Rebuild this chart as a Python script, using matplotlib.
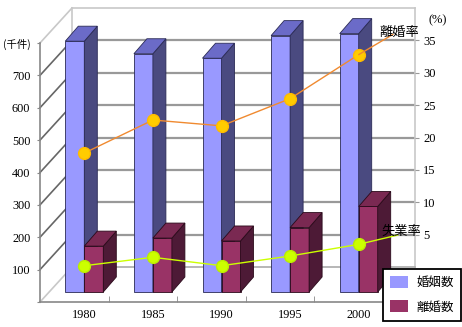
import matplotlib
matplotlib.use('Agg')
import matplotlib.pyplot as plt
from matplotlib.patches import Polygon, Patch
import numpy as np

plt.rcParams['font.family'] = ['Liberation Serif', 'Noto Sans CJK JP', 'DejaVu Sans']

# ---------------- data ----------------
years = ['1980', '1985', '1990', '1995', '2000']
marriages = [774.7, 735.9, 722.1, 791.9, 798.1]      # 婚姻数 (千件)
divorces = [141.7, 166.6, 157.6, 199.0, 264.2]       # 離婚数 (千件)
divorce_rate = [17.6, 22.7, 21.8, 26.0, 32.8]        # 離婚率 (%)
unemployment = [0.2, 1.5, 0.2, 1.7, 3.5]             # 失業率 (as drawn, %)
left_ticks = [0, 100, 200, 300, 400, 500, 600, 700, 800]
left_labels = ['', '100', '200', '300', '400', '500', '600', '700', '(千件)']
grid_ticks = [100, 200, 300, 400, 500, 600, 700]
right_ticks = [5, 10, 15, 20, 25, 30, 35]
right_labels = ['5', '10', '15', '20', '25', '30', '35']

# ---------------- layout (pixels) ----------------
W, H = 462, 327
fig = plt.figure(figsize=(W / 100, H / 100), dpi=100)
fig.patch.set_facecolor('white')

def rect(l, t, r, b):
    return [l / W, 1 - b / H, (r - l) / W, (b - t) / H]

FL, FR, FT, FB = 40, 383, 43, 302    # front plane
DX, DY = 32, 35                      # wall depth
BOX, BOY = 10, 10                    # bar plane offset
BDX, BDY = 13, 15                    # bar depth
BW = 19                              # bar width
n = len(years)
idx = np.arange(n)

# back wall
ax_back = fig.add_axes(rect(FL + DX, FT - DY, FR + DX, FB - DY))
ax_back.set_xlim(-0.5, n - 0.5)
ax_back.set_ylim(0, 800)
ax_back.set_yticks(grid_ticks)
ax_back.set_xticks([])
ax_back.yaxis.grid(True, color='#999999', lw=1.6)
ax_back.tick_params(left=False, labelleft=False)
for s in ['top', 'left', 'right']:
    ax_back.spines[s].set_color('#c8c8c8')
    ax_back.spines[s].set_linewidth(1.2)
ax_back.spines['bottom'].set_color('#aaaaaa')
ax_back.spines['bottom'].set_linewidth(1.2)

ax_r = ax_back.twinx()
ax_r.set_ylim(0, 40)
ax_r.set_yticks(right_ticks, right_labels)
ax_r.tick_params(axis='y', length=3, color='#999999', pad=3, labelsize=9)
for s in ax_r.spines.values():
    s.set_visible(False)
fig.text(438 / W, 1 - 20 / H, '(%)', ha='center', va='center', fontsize=9)

# front plane
ax = fig.add_axes(rect(FL, FT, FR, FB))
ax.patch.set_visible(False)
ax.set_xlim(-0.5, n - 0.5)
ax.set_ylim(0, 800)
for s in ['top', 'right']:
    ax.spines[s].set_visible(False)
for s in ['left', 'bottom']:
    ax.spines[s].set_color('#888888')
    ax.spines[s].set_linewidth(1.2)

xpp = n / (FR - FL)
ypp = 800 / (FB - FT)

# side wall diagonals
for v in left_ticks:
    c = '#c8c8c8' if v in (0, 800) else '#666666'
    ax.plot([-0.5, -0.5 + DX * xpp], [v, v + DY * ypp], color=c, lw=1.2,
            clip_on=False, zorder=0.5)

ax.set_yticks(left_ticks, left_labels)
ax.tick_params(axis='y', length=2, color='#888888', labelsize=8.8, pad=5)
for lbl in ax.get_yticklabels():
    if '千' in lbl.get_text():
        lbl.set_fontfamily(['Noto Sans CJK JP'])
        lbl.set_fontsize(7.5)

ox, oy = BOX * xpp, BOY * ypp
w = BW * xpp
dxb, dyb = BDX * xpp, BDY * ypp

ax.set_xticks(idx + ox, years)
ax.set_xticks(idx[:-1] + 0.5, minor=True)
ax.tick_params(axis='x', which='major', length=0, pad=5, labelsize=8.8)
ax.tick_params(axis='x', which='minor', length=4, direction='in', color='#888888')

def bar3d(lefts, heights, front, side, top, edge, z):
    ax.bar(lefts, heights, width=w, bottom=oy, align='edge', color=front,
           edgecolor=edge, linewidth=0.6, clip_on=False, zorder=z)
    for x0, h in zip(lefts, heights):
        x1 = x0 + w
        yt = oy + h
        ax.add_patch(Polygon([(x1, oy), (x1, yt), (x1 + dxb, yt + dyb), (x1 + dxb, oy + dyb)],
                             closed=True, fc=side, ec=edge, lw=0.6, clip_on=False, zorder=z))
        ax.add_patch(Polygon([(x0, yt), (x1, yt), (x1 + dxb, yt + dyb), (x0 + dxb, yt + dyb)],
                             closed=True, fc=top, ec=edge, lw=0.6, clip_on=False, zorder=z))

bar3d(idx + ox - w, marriages, '#9999ff', '#4a4a80', '#6b6bc8', '#2a2a55', 2)
bar3d(idx + ox, divorces, '#993366', '#4d1a36', '#7a2952', '#2a0a1a', 3)

# line axes (right scale)
axl = fig.add_axes(rect(FL + BOX, FT - DY, FR + BOX, FB - DY))
axl.set_xlim(-0.5, n - 0.5)
axl.set_ylim(0, 40)
axl.axis('off')
axl.patch.set_visible(False)

axl.plot(idx, divorce_rate, color='#f08a30', lw=1.0, marker='o', ms=8.5,
         mfc='#ffcc00', mec='#ffbb00', clip_on=False, zorder=5)
axl.plot(idx, unemployment, color='#ccff00', lw=1.0, marker='o', ms=8.5,
         mfc='#ccff00', mec='#bbee00', clip_on=False, zorder=5)

axl.annotate('離婚率', xy=(idx[-1], divorce_rate[-1]), xytext=(29, 16),
             textcoords='offset points', ha='center', va='center', fontsize=9.5,
             fontfamily=['Noto Sans CJK JP'],
             arrowprops=dict(arrowstyle='-', color='#f08a30', lw=1.0,
                             relpos=(0.35, 0.35), shrinkA=0, shrinkB=0, patchA=None),
             annotation_clip=False, zorder=6)
axl.annotate('失業率', xy=(idx[-1], unemployment[-1]), xytext=(31, 9.5),
             textcoords='offset points', ha='center', va='center', fontsize=9.5,
             fontfamily=['Noto Sans CJK JP'],
             arrowprops=dict(arrowstyle='-', color='#ccff00', lw=1.0,
                             relpos=(0.4, 0.2), shrinkA=0, shrinkB=0, patchA=None),
             annotation_clip=False, zorder=6)

# legend
handles = [Patch(fc='#9999ff', ec='none'), Patch(fc='#993366', ec='none')]
leg = fig.legend(handles, ['婚姻数', '離婚数'], loc='upper left',
                 bbox_to_anchor=(383 / W, 1 - 269 / H), borderaxespad=0,
                 frameon=True, fancybox=False, edgecolor='black', framealpha=1,
                 fontsize=9, handlelength=1.45, handleheight=1.1,
                 handletextpad=0.65, borderpad=0.55, labelspacing=0.9,
                 prop={'family': ['Noto Sans CJK JP'], 'size': 9})
leg.get_frame().set_linewidth(1.3)

fig.savefig('out.png', dpi=100)
